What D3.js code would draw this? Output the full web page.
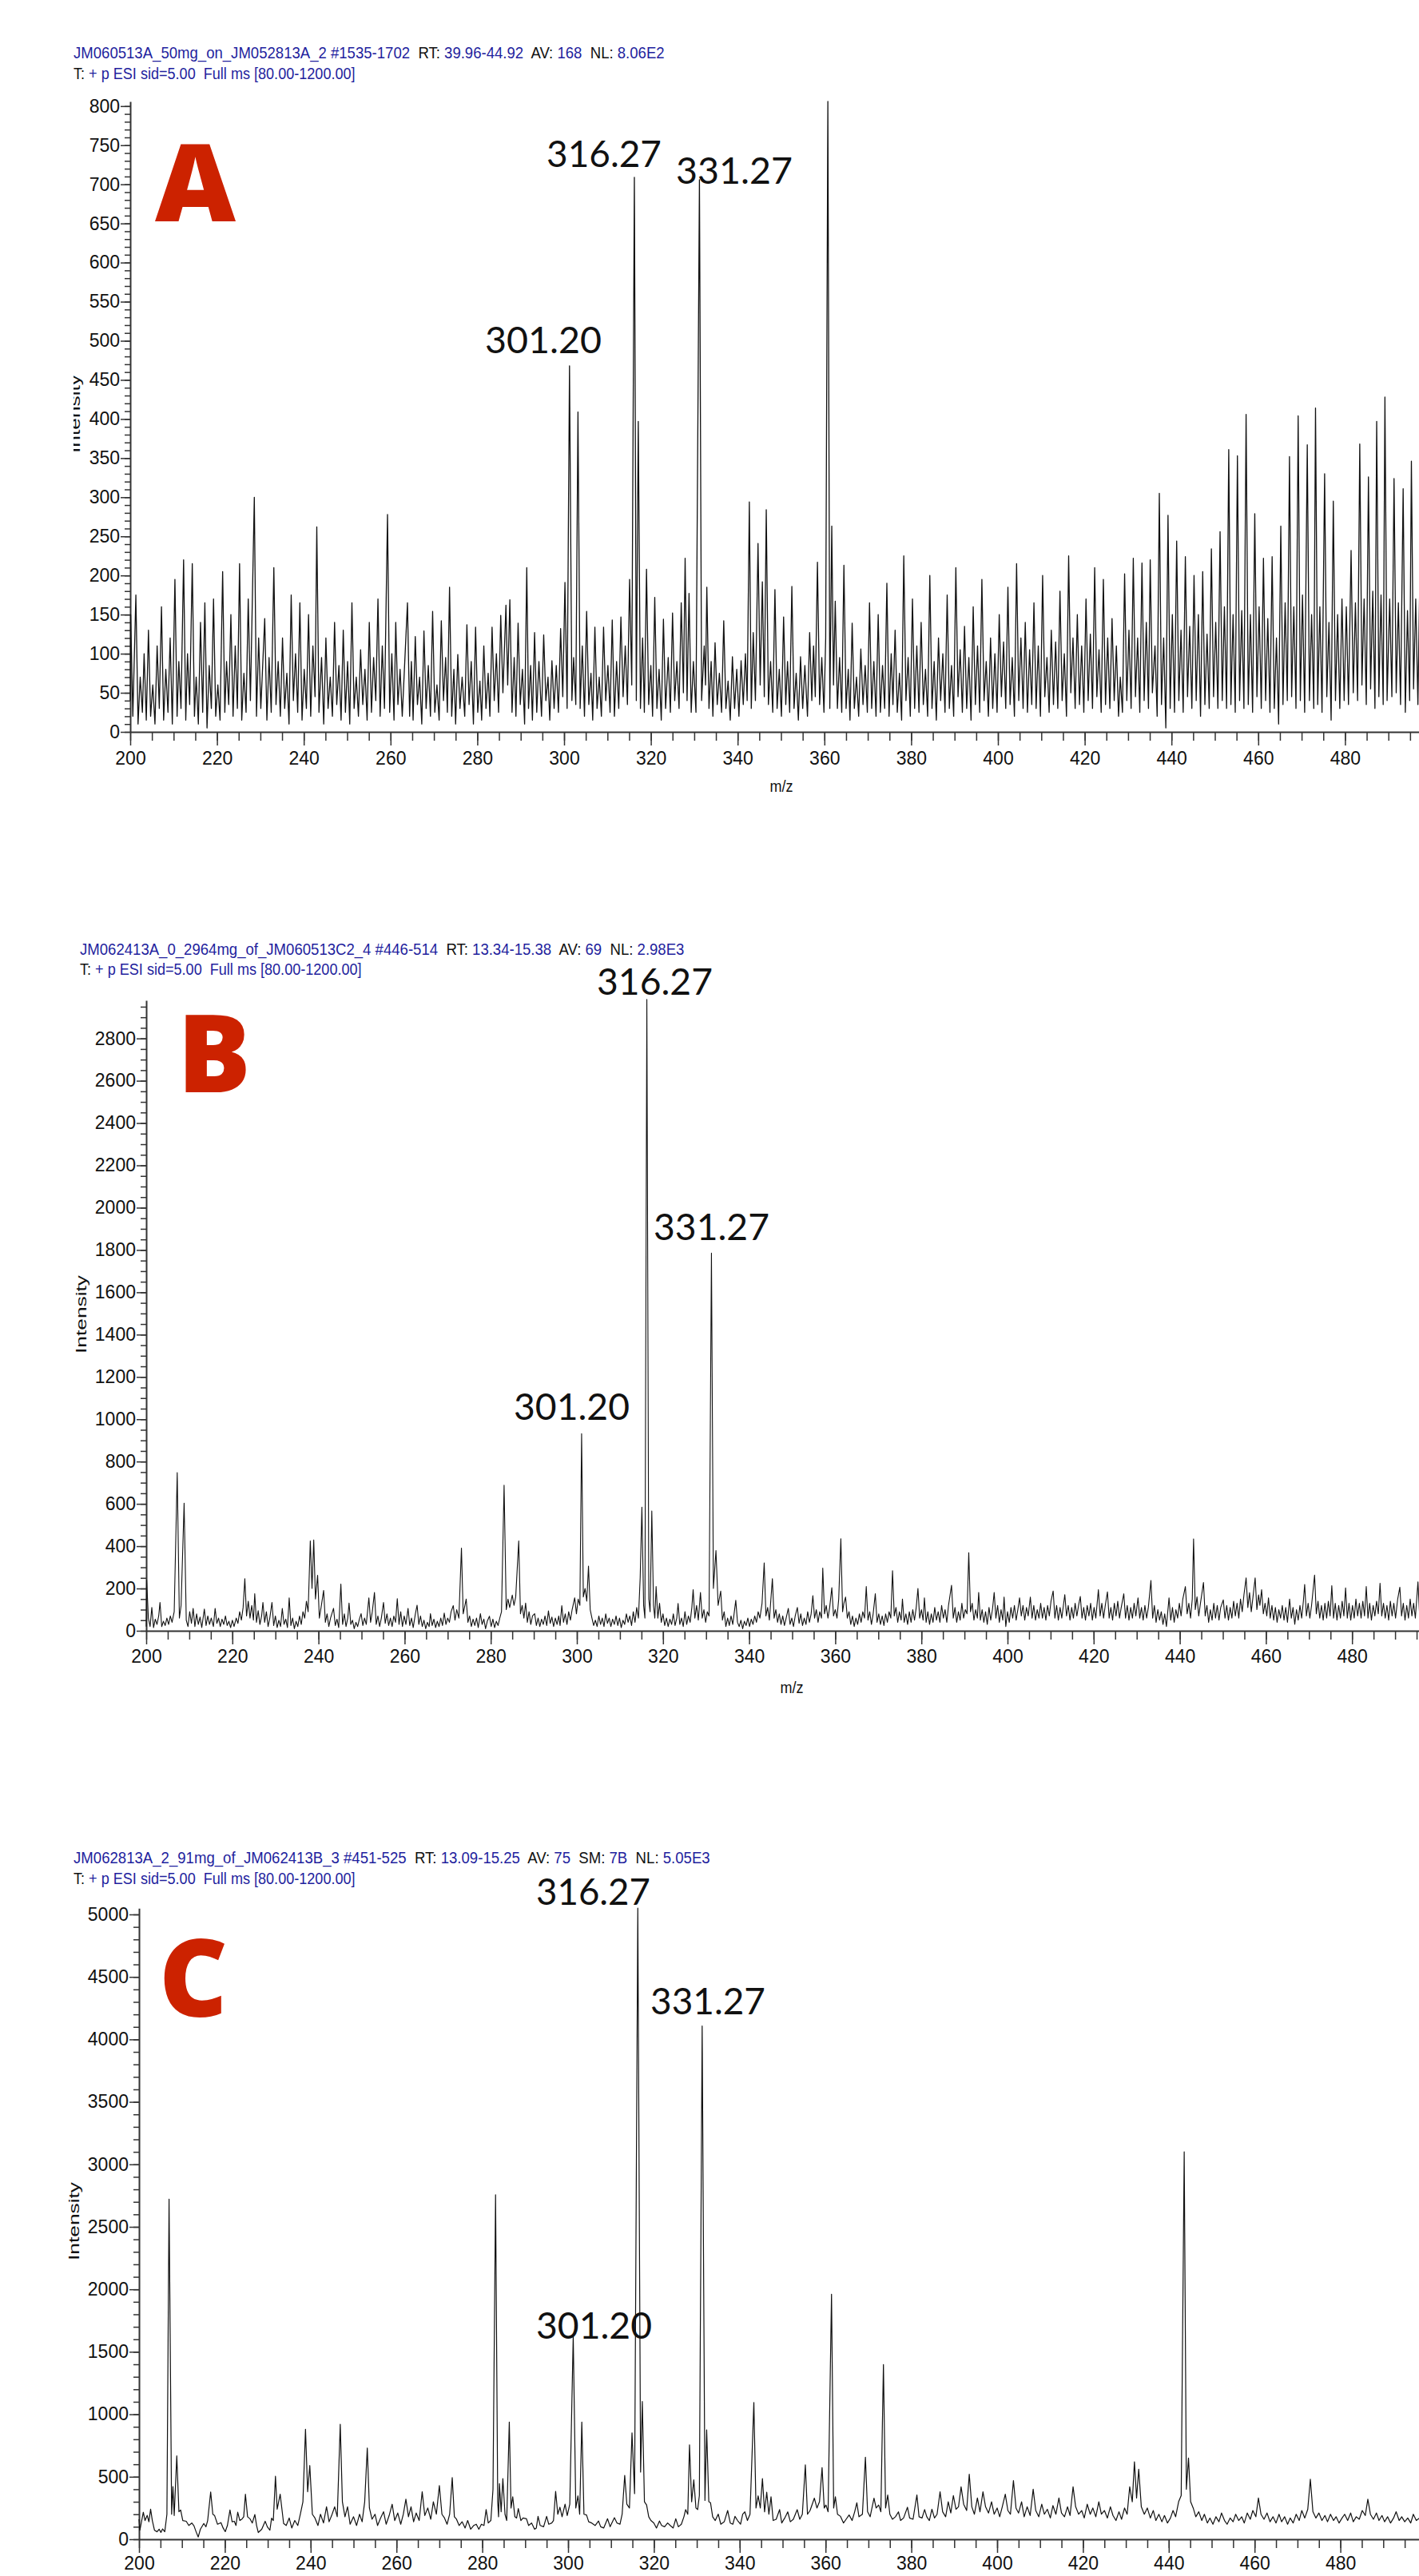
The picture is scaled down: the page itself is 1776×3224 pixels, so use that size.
<!DOCTYPE html>
<html>
<head>
<meta charset="utf-8">
<script src="https://cdn.jsdelivr.net/npm/d3@7"></script>
<style>
  body { margin: 0; background: #fff; }
  svg { display: block; }
</style>
</head>
<body>
<svg id="fig" width="1776" height="3224"></svg>
<script>
// ---- data: spectrum profiles, [m/z, intensity] ----
const profileA = [
[200.0,40],[200.1,150],[200.6,20],[201.3,175],[201.8,10],[202.3,70],[202.8,25],[203.2,100],[203.7,15],[204.2,130],[204.7,20],[205.2,60],[205.7,10],[206.2,110],[206.7,30],[207.2,160],[207.7,15],[208.2,80],[208.7,25],[209.2,120],[209.7,10],[210.3,195],[210.8,20],[211.2,90],[211.7,30],[212.3,220],[212.8,15],[213.2,100],[213.7,35],[214.3,215],[214.8,20],[215.2,70],[215.7,10],[216.2,140],[216.7,25],[217.2,165],[217.7,5],[218.2,85],[218.7,30],[219.2,170],[219.7,20],[220.2,60],[220.7,15],[221.3,205],[221.8,25],[222.2,90],[222.7,35],[223.2,150],[223.7,20],[224.2,110],[224.7,30],[225.2,215],[225.7,15],[226.2,75],[226.7,25],[227.2,170],[227.7,40],[228.6,300],[229.1,20],[229.6,120],[230.1,30],[231.0,145],[231.5,15],[232.0,95],[232.5,25],[233.1,210],[233.6,35],[234.1,90],[234.6,20],[235.1,120],[235.6,30],[236.1,75],[236.6,10],[237.1,175],[237.6,40],[238.1,100],[238.6,25],[239.1,165],[239.6,15],[240.1,80],[240.6,30],[241.1,150],[241.6,20],[242.1,110],[242.6,45],[243.0,262],[243.5,25],[244.1,95],[244.6,10],[245.1,120],[245.6,30],[246.1,70],[246.6,20],[247.1,140],[247.6,35],[248.1,85],[248.6,15],[249.1,130],[249.6,25],[250.1,90],[250.6,10],[251.1,165],[251.6,30],[252.1,70],[252.6,20],[253.1,105],[253.6,35],[254.1,80],[254.6,15],[255.1,140],[255.6,25],[256.1,95],[256.6,40],[257.1,170],[257.6,20],[258.1,110],[258.6,30],[259.3,278],[259.8,25],[260.3,100],[260.8,15],[261.2,140],[261.7,35],[262.2,80],[262.7,20],
[263.9,165],[264.4,20],[264.8,90],[265.2,15],[265.7,122],[266.2,35],[266.7,70],[267.2,10],[267.7,129],[268.2,30],[268.7,85],[269.2,20],[269.7,154],[270.2,25],[270.7,60],[271.2,15],[271.7,142],[272.2,40],[272.7,95],[273.1,25],[273.6,185],[274.1,20],[274.6,80],[275.0,10],[275.5,99],[276.0,30],[276.5,70],[277.1,20],[277.6,137],[278.1,35],[278.6,90],[279.1,10],[279.6,134],[280.1,25],[280.6,65],[281.0,15],[281.5,110],[282.0,30],[282.5,75],[282.9,20],[283.4,134],[283.9,40],[284.4,100],[284.9,25],[285.4,149],[285.9,50],[286.6,162],[287.0,60],[287.5,169],[288.0,25],[288.5,95],[288.9,20],[289.4,139],[289.9,35],[290.4,80],[290.9,10],[291.4,210],[291.8,30],[292.3,85],[292.7,15],[293.2,127],[293.7,25],[294.2,90],[294.8,20],[295.3,124],[295.8,40],[296.3,70],[296.7,15],[297.2,91],[297.7,30],[298.2,85],[298.7,25],[299.2,132],[299.7,45],[300.2,191],[300.7,30],[301.25,468],[301.8,40],[302.2,95],[302.7,35],[303.2,409],[303.7,30],[304.2,110],[304.7,20],[305.2,154],[305.7,35],[306.2,75],[306.6,15],[307.1,134],[307.6,30],[308.1,70],[308.6,20],[309.1,134],[309.6,40],[310.1,85],[310.6,25],[311.1,143],[311.6,20],[312.1,90],[312.6,30],[313.1,147],[313.6,45],[314.1,110],[314.6,35],[315.1,195],[315.6,60],[316.2,709],[316.65,40],[317.1,397],[317.6,30],[318.1,120],[318.5,25],[319.0,208],[319.5,35],[320.0,85],[320.4,20],[320.9,172],[321.4,30],[321.9,80],[322.4,15],[322.9,144],[323.4,30],[324.0,95],[324.5,25],[325.0,152],[325.5,40],[326.0,90],[326.5,30],[327.0,165],[327.5,50],[327.9,222],[328.35,40],[328.8,177],[329.3,25],[329.8,90],[330.4,25],[331.2,706],[331.7,40],[332.3,110],[332.6,60],[332.9,185],[333.4,30],[333.9,90],[334.3,20],[334.8,114],[335.3,35],[335.8,75],[336.3,25],[336.8,142],[337.3,30],[337.8,65],[338.3,15],[338.8,96],[339.3,30],[339.8,80],[340.3,20],[340.8,91],[341.3,35],[341.8,100],[342.2,40],[342.7,294],[343.15,30],[343.6,127],[344.1,40],[344.7,241],[345.2,60],[345.7,192],[346.15,45],[346.6,284],[347.1,35],[347.6,90],[348.1,25],[348.6,182],[349.1,30],[349.6,80],[350.1,20],[350.6,147],[351.1,35],[351.5,90],[352.0,25],[352.5,186],[353.0,30],[353.5,75],[354.0,15],[354.5,96],[355.0,30],[355.5,85],[356.1,20],[356.6,127],[357.1,40],[357.5,110],[357.9,45],[358.4,217],[358.9,35],[359.4,95],[359.9,25],[360.3,120],[360.8,806],[361.25,30],[361.7,263],[362.1,60],[362.5,167],[363.0,30],[363.5,95],[364.0,25],[364.5,213],[365.0,30],[365.5,80],[365.9,15],[366.4,139],[366.9,30],[367.4,70],[367.9,20],[368.4,106],[368.9,35],[369.4,85],[369.9,25],[370.4,165],[370.9,30],[371.4,90],[371.9,20],
[372.4,150],[372.9,25],[373.4,85],[373.9,30],[374.4,190],[374.9,20],[375.4,100],[375.8,35],[376.3,130],[376.8,25],[377.3,75],[377.8,15],[378.3,225],[378.8,40],[379.3,95],[379.8,20],[380.3,170],[380.8,30],[381.3,110],[381.8,25],[382.3,140],[382.8,35],[383.3,80],[383.8,20],[384.3,200],[384.8,30],[385.3,90],[385.8,15],[386.3,120],[386.8,40],[387.3,100],[387.8,25],[388.3,175],[388.8,30],[389.3,85],[389.8,20],[390.3,210],[390.8,45],[391.3,105],[391.8,25],[392.3,135],[392.8,30],[393.3,95],[393.8,15],[394.3,160],[394.8,35],[395.3,110],[395.8,25],[396.3,195],[396.8,40],[397.3,90],[397.8,20],[398.3,120],[398.8,30],[399.3,100],[399.8,25],[400.3,150],[400.8,45],[401.3,115],[401.8,30],[402.3,185],[402.8,35],[403.3,95],[403.8,20],[404.3,215],[404.8,40],[405.3,120],[405.8,30],[406.3,140],[406.8,25],[407.3,105],[407.8,35],[408.3,165],[408.8,30],[409.3,110],[409.8,20],[410.3,200],[410.8,45],[411.3,95],[411.8,25],[412.3,130],[412.8,35],[413.3,115],[413.8,30],[414.3,180],[414.8,40],[415.3,100],[415.8,20],[416.3,225],[416.8,50],[417.3,120],[417.8,30],[418.3,150],[418.8,35],[419.3,110],[419.8,25],[420.3,170],[420.8,40],[421.3,125],[421.8,30],[422.3,210],[422.8,45],[423.3,105],[423.8,25],[424.3,195],[424.8,35],[425.3,120],[425.8,30],[426.3,145],[426.8,40],[427.3,110],[427.8,20],[428.2,70],[428.7,25],
[429.2,202],[429.7,40],[430.2,130],[430.7,30],[431.2,222],[431.7,45],[432.2,120],[432.7,25],[433.2,216],[433.7,40],[434.2,140],[434.7,30],[435.1,220],[435.6,50],[436.2,110],[436.7,20],[437.2,305],[437.7,35],[438.2,120],[438.7,5],[439.2,277],[439.7,30],[440.2,150],[440.7,25],[441.2,244],[441.7,40],[442.2,130],[442.7,25],[443.2,224],[443.7,45],[444.2,135],[444.7,30],[445.2,200],[445.7,40],[446.2,150],[446.7,20],[447.2,205],[447.7,35],[448.2,125],[448.7,30],[449.2,234],[449.7,45],[450.2,140],[450.7,30],[451.2,256],[451.7,40],[452.2,160],[452.7,30],[453.2,361],[453.7,35],[454.2,150],[454.7,25],[455.2,353],[455.7,40],[456.2,155],[456.7,30],[457.2,406],[457.7,35],[458.2,150],[458.7,25],[459.2,279],[459.7,45],[460.2,160],[460.7,30],[461.2,222],[461.7,40],[462.2,145],[462.7,25],[463.2,224],[463.7,30],[464.2,120],[464.7,10],[465.2,263],[465.7,35],[466.2,165],[466.7,40],[467.2,352],[467.7,45],[468.2,160],[468.7,30],[469.2,404],[469.7,40],[470.2,175],[470.7,25],[471.3,367],[471.8,40],[472.3,150],[472.8,30],[473.2,414],[473.7,35],[474.2,160],[474.7,25],[475.3,330],[475.8,45],[476.3,140],[476.8,15],[477.3,295],[477.8,40],[478.3,150],[478.8,30],[479.3,170],[479.8,40],[480.3,160],[480.8,35],[481.4,232],[481.9,50],[482.4,165],[482.9,40],[483.4,368],[483.9,60],[484.4,170],[484.9,35],[485.4,326],[485.9,55],[486.4,180],[486.9,30],[487.3,397],[487.8,45],[488.3,175],[488.8,35],[489.2,428],[489.7,40],[490.3,170],[490.8,45],[491.3,324],[491.8,50],[492.3,165],[492.8,35],[493.4,311],[493.9,25],[494.4,155],[494.9,40],[495.3,346],[495.8,55],[496.3,170],[496.8,35],[497.3,220],[497.8,60],[498.5,150]
];

const profileB = [
[200.0,20],[200.1,240],[200.5,60],[200.9,20],[201.3,110],[201.7,15],[202.1,55],[202.5,30],[202.9,70],[203.2,134],[203.6,20],[204.0,45],[204.4,25],[204.8,60],[205.2,30],[205.6,70],[206.0,40],[206.5,90],[207.2,748],[207.7,60],[208.1,120],[208.8,603],[209.3,50],[209.7,20],[210.1,90],[210.5,35],[210.9,106],[211.3,20],[211.7,80],[212.1,30],[212.5,65],[212.9,15],[213.5,103],[213.9,25],[214.3,70],[214.7,30],[215.1,60],[215.6,20],[216.0,106],[216.4,35],[216.8,60],[217.2,20],[217.6,55],[218.0,30],[218.4,70],[218.8,25],[219.2,45],[219.6,15],[220.0,50],[220.4,20],[220.9,60],[221.3,35],[221.7,90],[222.1,50],[222.5,110],[222.9,246],[223.3,70],[223.7,140],[224.1,60],[224.5,120],[224.9,50],[225.2,175],[225.6,40],[226.0,95],[226.4,30],[226.8,70],[227.1,134],[227.5,40],[227.9,90],[228.3,20],[228.7,60],[229.2,134],[229.6,25],[230.0,70],[230.4,15],[230.8,50],[231.2,20],[231.6,106],[232.0,30],[232.4,55],[232.8,15],[233.2,156],[233.6,25],[234.0,60],[234.4,10],[234.8,45],[235.2,20],[235.6,70],[236.0,30],[236.4,90],[236.8,60],[237.2,140],[237.6,90],[238.1,425],[238.5,200],[238.9,429],[239.3,150],[239.8,262],[240.2,60],[240.6,110],[241.2,191],[241.6,40],[242.0,80],[242.4,20],[242.8,60],[243.5,106],[243.9,25],[244.3,55],[244.7,15],[245.2,221],[245.6,30],[246.0,80],[246.4,20],[246.8,60],[247.1,131],[247.5,30],[247.9,50],[248.3,10],[248.7,40],[249.1,20],[249.5,55],[249.9,81],[250.3,25],[250.7,60],[251.1,30],[251.7,156],[252.1,40],[252.5,90],[253.0,181],[253.4,30],[253.8,70],[254.2,20],[254.6,60],[255.1,134],[255.5,35],[255.9,80],[256.3,25],[256.7,60],[257.1,20],[257.5,70],[257.9,40],[258.3,152],[258.7,30],[259.1,90],[259.5,20],[259.9,70],[260.3,30],[260.8,106],[261.2,25],[261.6,60],[262.0,15],[262.5,80],[262.9,121],[263.3,30],[263.7,70],[264.1,20],[264.5,50],[264.9,10],[265.3,40],[265.7,20],[266.0,81],[266.4,25],[266.8,55],[267.2,15],[267.6,45],[268.0,20],[268.4,60],[268.8,25],[269.2,84],[269.6,30],[270.0,60],[270.4,40],[270.8,90],[271.3,119],[271.7,50],[272.1,100],[272.6,60],[273.2,391],[273.6,80],[274.3,150],[274.7,40],[275.1,70],[275.5,20],[275.9,55],[276.3,25],[276.7,60],[277.1,15],[277.6,81],[278.0,30],[278.4,55],[278.8,10],[279.2,45],[279.7,69],[280.1,20],[280.5,55],[280.9,15],[281.3,45],[281.7,25],[282.1,60],[282.5,90],[283.1,688],[283.6,100],[284.0,150],[284.4,110],[285.0,169],[285.4,120],[285.8,160],[286.5,425],[286.9,80],[287.3,120],[287.7,60],[288.1,131],[288.5,40],[288.9,90],[289.3,30],[289.7,70],[290.2,81],[290.6,25],[291.0,60],[291.4,20],[291.8,55],[292.2,30],[292.6,70],[293.0,25],[293.4,94],[293.8,35],[294.2,65],[294.6,20],[295.0,60],[295.4,30],[295.8,70],[296.1,25],[296.5,119],[296.9,40],[297.3,80],[297.7,30],[298.1,90],[298.5,50],[298.9,100],[299.5,156],[299.9,80],[300.3,150],[300.7,120],[301.1,932],[301.5,160],[301.9,200],[302.3,140],[302.7,306],[303.1,100],[303.5,60],[303.9,25],[304.3,50],[304.7,20],[305.1,70],[305.5,30],[305.9,60],[306.3,20],[306.7,80],[307.1,35],[307.5,60],[307.9,20],[308.3,55],[308.7,30],[309.1,70],[309.5,25],[309.9,60],[310.3,15],[310.7,50],[311.1,30],[311.5,80],[311.9,40],[312.3,70],[312.7,25],[313.1,90],[313.5,40],[313.9,110],[314.3,60],[314.7,250],[315.1,584],[315.5,120],[315.8,60],[316.25,2985],[316.7,150],[317.0,90],[317.4,566],[317.8,120],[318.1,60],[318.4,209],[318.8,60],[319.2,130],[319.6,40],[320.0,80],[320.4,25],[320.8,60],[321.2,20],[321.6,55],[322.0,30],[322.4,80],[322.8,25],[323.2,60],[323.5,129],[323.9,30],[324.3,60],[324.7,20],[325.1,90],[325.5,30],[325.9,70],[326.3,40],[326.7,110],[327.0,194],[327.4,60],[327.8,120],[328.2,50],[328.7,181],[329.1,60],[329.5,100],[329.9,40],[330.3,90],[330.7,70],[331.25,1785],[331.7,200],[332.3,379],[332.8,120],[333.4,188],[333.8,50],[334.2,90],[334.6,20],[335.0,60],[335.4,25],[335.8,70],[336.2,30],[336.9,144],[337.3,40],[337.7,20],[338.1,50],[338.5,10],[338.9,45],[339.3,25],[339.7,60],[340.1,20],[340.5,55],[340.9,30],[341.3,70],[341.7,40],[342.1,90],[342.5,60],[343.0,130],[343.5,321],[343.9,70],[344.3,110],[344.7,50],[345.4,246],[345.8,60],[346.2,100],[346.6,40],[347.0,80],[347.4,30],[347.8,70],[348.2,25],[348.6,60],[349.1,106],[349.5,30],[349.9,60],[350.3,20],[350.7,70],[351.2,110],[351.6,35],[352.0,80],[352.4,25],[352.8,60],[353.2,30],[353.6,90],[354.0,40],[354.4,80],[354.8,166],[355.2,60],[355.6,100],[356.0,40],[356.4,90],[356.8,60],[357.1,296],[357.5,80],[357.9,120],[358.3,60],[358.7,110],[359.2,204],[359.6,70],[360.0,100],[360.4,60],[360.8,150],[361.3,435],[361.7,90],[362.0,130],[362.4,159],[362.8,60],[363.2,90],[363.6,30],[364.0,70],[364.4,20],[364.8,60],[365.2,30],[365.6,80],[366.0,40],[366.4,90],[366.8,60],[367.2,209],[367.6,50],[368.0,90],[368.4,30],[368.8,80],[369.3,175],[369.7,40],[370.1,80],[370.5,30],[370.9,70],[371.3,25],[371.7,80],[372.1,40],[372.5,90],[372.9,60],[373.3,284],[373.7,70],[374.1,110],[374.5,40],[374.9,90],[375.3,50],[375.6,150],[376.0,40],[376.4,80],[376.8,30],[377.2,90],[377.6,40],[378.0,100],[378.4,50],[378.8,110],[379.2,200],[379.6,60],[380.0,100],[380.4,50],[380.7,156],[381.1,40],[381.5,90],[381.9,30],[382.3,80],[382.7,40],[383.1,110],[383.5,50],[383.9,90],[384.3,40],[384.7,120],[385.1,60],[385.5,100],[385.9,40],[386.3,120],[387.0,215],[387.4,60],[387.8,110],[388.2,40],[388.6,90],[389.0,50],[389.4,130],[389.8,60],[390.2,100],[390.6,80],[391.0,369],[391.4,90],[391.8,130],[392.2,50],[392.6,100],[393.0,60],[393.3,181],[393.7,50],[394.1,100],[394.5,40],[394.9,90],[395.3,30],[395.7,110],[396.1,50],[396.5,100],[396.9,181],[397.3,60],[397.7,120],[398.1,40],[398.5,100],[398.9,50],[399.2,159],[399.6,20],[400.0,90],[400.4,40],[400.8,110],[401.2,60],[401.6,120],[402.0,50],[402.4,100],[402.8,156],[403.2,70],[403.6,120],[404.0,50],[404.4,110],[404.8,70],[405.3,159],[405.7,60],[406.1,120],[406.5,50],[406.9,100],[407.3,60],[407.7,130],[408.1,60],[408.5,110],[408.9,50],[409.3,120],[409.7,70],[410.1,140],[410.6,188],[411.0,60],[411.4,120],[411.8,50],[412.2,110],[412.6,60],[413.3,171],[413.7,70],[414.1,120],[414.5,50],[414.9,110],[415.3,60],[415.7,130],[416.1,70],[416.5,120],[416.9,162],[417.3,60],[417.7,110],[418.1,50],[418.5,120],[418.9,70],[419.3,130],[419.7,50],[420.1,110],[420.5,60],[421.1,194],[421.5,70],[421.9,130],[422.3,60],[422.7,120],[423.2,184],[423.6,60],[424.0,110],[424.4,50],[424.8,130],[425.2,70],[425.6,140],[426.0,60],[426.4,110],[427.0,175],[427.4,60],[427.8,120],[428.2,50],[428.6,110],[429.0,60],[429.4,130],[429.8,70],[430.3,156],[430.7,60],[431.1,110],[431.5,50],[431.9,120],[432.3,60],[432.7,110],[433.3,238],[433.7,60],[434.1,120],[434.5,40],[434.9,100],[435.3,50],[435.7,90],[436.1,30],[436.5,80],[436.9,20],[437.5,156],[437.9,50],[438.3,110],[438.7,40],[439.1,100],[439.5,60],[439.9,130],[440.3,70],[440.7,150],[441.3,209],[441.7,80],[442.1,130],[442.5,60],[442.9,150],[443.2,434],[443.6,100],[444.0,160],[444.4,70],[444.8,130],[445.5,228],[445.9,70],[446.3,120],[446.7,40],[447.1,100],[447.5,50],[447.9,130],[448.3,60],[448.7,120],[449.1,50],[449.5,110],[450.1,146],[450.5,60],[450.9,120],[451.3,50],[451.7,110],[452.1,60],[452.5,140],[452.9,70],[453.3,130],[453.7,60],[454.1,150],[454.5,90],[454.9,170],[455.4,250],[455.8,110],[456.2,180],[456.6,90],[457.0,160],[457.5,250],[457.9,100],[458.3,170],[458.6,120],[459.0,194],[459.4,80],[459.8,130],[460.2,70],[460.6,156],[461.0,60],[461.4,120],[461.8,50],[462.2,110],[462.6,40],[463.0,100],[463.4,60],[463.8,120],[464.2,50],[464.6,110],[465.0,40],[465.5,150],[465.9,60],[466.3,110],[466.7,30],[467.1,100],[467.5,50],[467.9,120],[468.3,60],[468.7,140],[469.0,219],[469.4,70],[469.8,130],[470.2,60],[470.6,120],[471.3,263],[471.7,80],[472.1,140],[472.5,60],[472.9,120],[473.3,50],[473.7,130],[474.1,60],[474.5,140],[474.9,70],[475.3,213],[475.7,60],[476.1,130],[476.5,50],[476.9,120],[477.3,60],[477.7,140],[478.1,70],[478.5,203],[478.9,60],[479.3,130],[479.7,50],[480.1,120],[480.5,60],[480.9,150],[481.3,70],[481.7,130],[482.1,60],[482.5,140],[482.9,70],[483.3,209],[483.7,60],[484.1,130],[484.5,50],[484.9,120],[485.3,70],[485.7,140],[486.1,80],[486.5,225],[486.9,70],[487.3,130],[487.7,60],[488.1,120],[488.5,50],[488.9,140],[489.3,70],[489.7,130],[490.1,60],[490.6,150],[491.1,206],[491.5,70],[491.9,130],[492.3,50],[492.7,120],[493.1,60],[493.5,150],[493.9,70],[494.3,130],[494.7,60],[495.3,231],[495.7,70],[496.1,140],[496.5,60],[496.9,130],[497.3,70],[497.7,150],[498.2,80]
];

const profileC = [
[200.0,160],[200.2,72],[201.0,216],[201.4,150],[201.9,191],[202.3,140],[202.7,241],[203.1,150],[203.6,72],[204.2,60],[204.7,80],[205.1,55],[205.5,83],[206.0,60],[206.5,200],[207.0,2721],[207.6,200],[207.9,422],[208.2,190],[208.8,667],[209.3,220],[209.7,234],[210.2,150],[211.0,144],[211.6,110],[212.3,130],[212.8,108],[213.3,60],[213.8,18],[214.3,80],[215.1,126],[215.6,100],[216.0,150],[216.7,378],[217.2,200],[217.6,191],[218.3,120],[219.1,133],[219.6,90],[220.1,61],[220.6,110],[221.2,234],[221.7,140],[222.2,144],[222.6,110],[223.0,216],[223.5,150],[224.0,162],[224.4,180],[224.8,360],[225.3,180],[225.9,162],[226.4,130],[227.0,198],[227.4,110],[227.8,54],[228.6,80],[229.4,144],[229.9,100],[230.5,72],[230.9,169],[231.3,150],[231.8,504],[232.2,240],[232.9,360],[233.7,126],
[234.3,110],[235.0,170],[235.6,90],[236.3,150],[237.0,110],[237.6,200],[238.2,300],[238.8,880],[239.3,380],[239.8,590],[240.4,200],[241.0,170],[241.7,110],[242.3,200],[243.0,130],[243.7,260],[244.3,140],[245.0,200],[245.6,260],[246.2,180],[246.9,920],[247.4,300],[248.0,180],[248.6,260],[249.2,120],[250.0,180],[250.7,110],[251.4,200],[252.0,140],[252.6,300],[253.2,730],[253.7,250],[254.3,160],[255.0,200],[255.6,110],[256.3,170],[257.0,220],[257.6,120],[258.3,190],[259.0,280],[259.6,150],[260.3,210],[261.0,120],[261.6,200],[262.2,320],[262.8,180],[263.4,260],[264.0,140],[264.6,210],[265.3,150],[266.0,380],[266.6,190],[267.3,250],[268.0,160],[268.6,300],[269.3,200],[270.0,430],[270.6,200],[271.2,170],[271.8,120],[272.4,200],[273.0,493],[273.5,180],[274.0,160],[274.6,110],[275.3,140],[276.0,90],[276.6,150],[277.3,80],[278.0,110],[278.6,120],[279.2,80],[279.8,120],[280.4,110],[280.9,237],[281.4,130],[282.0,150],[282.5,400],[283.1,2756],[283.6,300],[283.8,180],[284.0,445],[284.4,220],[284.8,486],[285.3,200],[285.7,150],[286.3,938],[286.7,250],[287.1,340],[287.6,180],[288.0,170],[288.4,245],[289.0,150],[289.5,170],[290.3,164],[290.8,110],[291.5,130],[292.2,80],[292.6,90],[293.0,183],[293.5,110],[294.3,100],[295.0,183],[295.5,120],[296.2,130],[296.6,150],[297.1,383],[297.6,200],[298.1,256],[298.6,180],[299.3,281],[299.8,190],[300.4,280],[301.2,1625],[301.8,250],[302.3,347],[302.7,200],[303.2,938],[303.7,200],[304.3,194],[304.8,140],[305.5,130],[306.3,110],[307.1,146],[307.6,100],[308.3,90],[309.2,164],[309.8,100],[310.8,172],[311.4,130],[312.1,120],[312.6,200],[313.2,511],[313.7,280],[314.3,250],[314.9,851],[315.5,365],[316.25,5050],[316.9,537],[317.3,1103],[317.8,300],[318.3,274],[318.8,180],[319.3,150],[320.0,130],[320.6,90],[321.3,146],[321.8,110],[322.5,100],[323.2,130],[323.8,110],[324.5,90],[325.1,164],[325.7,100],[326.4,120],[327.0,180],[327.4,237],[327.9,200],[328.3,756],[328.8,300],[329.3,475],[329.8,250],[330.2,237],[330.6,350],[331.25,4107],[331.9,310],[332.3,876],[332.8,300],[333.2,292],[333.7,180],[334.3,150],[335.0,201],[335.6,120],[336.4,140],[337.2,230],[337.8,130],[338.4,120],[338.9,183],[339.5,150],[340.2,120],[340.7,200],[341.2,219],[341.8,150],[342.4,200],[343.3,1095],[343.8,250],[344.3,347],[344.8,250],[345.3,486],[345.8,220],[346.3,376],[346.8,200],[347.3,340],[347.8,150],[348.5,160],[349.3,237],[349.8,130],[350.5,170],[351.2,219],[351.8,140],[352.5,160],[353.4,237],[354.0,160],[354.6,200],[355.3,595],[355.8,200],[356.4,230],[357.4,329],[358.0,250],[358.6,300],[359.2,573],[359.7,250],[360.1,274],[360.6,220],[361.4,1961],[361.9,250],[362.3,340],[362.8,200],[363.5,183],[364.2,130],[364.8,160],[365.5,194],[366.2,150],[366.8,220],[367.3,292],[367.8,180],[368.6,200],[369.3,657],[369.8,220],[370.4,180],[371.3,329],[371.8,250],[372.4,274],[372.9,220],[373.5,1398],[374.0,250],[374.5,354],[375.0,200],[375.6,160],[376.3,180],[377.0,219],[377.5,150],[378.2,170],[379.1,256],[379.6,170],[380.4,160],[381.3,354],[381.8,180],[382.5,170],[383.1,237],[383.6,180],
[384.2,150],[384.8,240],[385.4,170],[386.0,200],[386.7,380],[387.3,220],[388.0,180],[388.6,300],[389.2,210],[389.8,350],[390.4,240],[391.0,260],[391.6,420],[392.2,280],[392.9,230],[393.5,520],[394.1,260],[394.7,200],[395.4,330],[396.0,220],[396.7,380],[397.3,260],[398.0,210],[398.7,300],[399.3,200],[400.0,250],[400.6,180],[401.2,260],[401.9,360],[402.5,230],[403.1,200],[403.8,470],[404.4,250],[405.0,210],[405.7,300],[406.3,180],[407.0,260],[407.7,190],[408.4,400],[409.0,230],[409.7,180],[410.4,280],[411.0,200],[411.7,240],[412.4,170],[413.0,270],[413.7,200],[414.4,330],[415.0,210],[415.7,180],[416.4,260],[417.0,190],[417.7,420],[418.3,260],[419.0,200],[419.7,230],[420.3,170],[421.0,280],[421.7,200],[422.3,250],[423.0,180],[423.7,300],[424.3,200],[425.0,230],[425.7,170],[426.4,260],[427.0,190],[427.7,150],[428.4,220],[429.0,160],[429.7,250],[430.3,200],[430.9,420],[431.5,300],[432.0,620],[432.5,330],[433.0,560],[433.6,260],[434.3,200],[435.0,250],[435.7,170],[436.4,230],[437.0,150],[437.7,200],[438.4,140],[439.0,190],[439.7,130],[440.4,170],[441.0,230],[441.6,180],[442.3,300],[442.9,350],[443.6,3100],[444.1,400],[444.6,650],[445.1,300],[445.7,250],[446.3,180],[447.0,220],[447.7,150],[448.3,200],[449.0,130],[449.6,170],[450.3,120],[451.0,180],[451.7,140],[452.3,210],[453.0,150],[453.6,120],[454.3,170],[455.0,140],[455.6,200],[456.3,150],[457.0,180],[457.6,130],[458.3,210],[459.0,160],[459.6,230],[460.3,180],[460.9,330],[461.5,200],[462.2,160],[462.9,210],[463.6,140],[464.3,180],[465.0,130],[465.7,200],[466.3,140],[467.0,180],[467.7,120],[468.3,170],[469.0,130],[469.7,200],[470.4,150],[471.0,230],[471.7,170],[472.4,240],[473.0,480],[473.6,220],[474.3,170],[475.0,210],[475.7,150],[476.4,190],[477.0,140],[477.7,200],[478.4,150],[479.0,180],[479.7,130],[480.4,170],[481.0,200],[481.7,150],[482.4,210],[483.0,140],[483.7,180],[484.4,160],[485.1,230],[485.8,190],[486.4,320],[487.0,200],[487.7,160],[488.4,210],[489.0,150],[489.7,190],[490.3,140],[491.0,180],[491.7,130],[492.4,170],[493.0,220],[493.7,150],[494.3,180],[495.0,140],[495.7,170],[496.4,130],[497.0,200],[497.7,150],[498.5,170]
];

// tick labels
const xTicks = [200,220,240,260,280,300,320,340,360,380,400,420,440,460,480];
const yTicksA = [0,50,100,150,200,250,300,350,400,450,500,550,600,650,700,750,800];
const yTicksB = [0,200,400,600,800,1000,1200,1400,1600,1800,2000,2200,2400,2600,2800];
const yTicksC = [0,500,1000,1500,2000,2500,3000,3500,4000,4500,5000];

// header texts: [text, k = black / b = blue]
const headerA = [
  [["JM060513A_50mg_on_JM052813A_2 #1535-1702  ","b"],["RT: ","k"],["39.96-44.92","b"],["  AV: ","k"],["168","b"],["  NL: ","k"],["8.06E2","b"]],
  [["T: ","k"],["+ p ESI sid=5.00  Full ms [80.00-1200.00]","b"]]
];
const headerB = [
  [["JM062413A_0_2964mg_of_JM060513C2_4 #446-514  ","b"],["RT: ","k"],["13.34-15.38","b"],["  AV: ","k"],["69","b"],["  NL: ","k"],["2.98E3","b"]],
  [["T: ","k"],["+ p ESI sid=5.00  Full ms [80.00-1200.00]","b"]]
];
const headerC = [
  [["JM062813A_2_91mg_of_JM062413B_3 #451-525  ","b"],["RT: ","k"],["13.09-15.25","b"],["  AV: ","k"],["75","b"],["  SM: ","k"],["7B","b"],["  NL: ","k"],["5.05E3","b"]],
  [["T: ","k"],["+ p ESI sid=5.00  Full ms [80.00-1200.00]","b"]]
];

const peakLabels = ["301.20", "316.27", "331.27"];

// ---- drawing ----
const narrow = '"Liberation Sans Narrow", "Liberation Sans", Arial, sans-serif';
const blue = "#1f1f9e", ink = "#111", red = "#cc2200";
const svg = d3.select("#fig");

// squeeze a text horizontally to a target width (keeps tspans in order)
function fitWidth(t, x, y, w) {
  const natural = t.node().getComputedTextLength();
  t.attr("x", 0).attr("y", 0)
    .attr("transform", "translate(" + x + "," + y + ") scale(" + (w / natural) + ",1)");
}

function drawPanel(p) {
  const g = svg.append("g");
  const x = d3.scaleLinear().domain([200, 500]).range(p.xRange);
  const y = d3.scaleLinear().domain([0, p.yMax]).range(p.yRange);
  const x0 = p.xRange[0], y0 = p.yRange[0];

  p.header.forEach(function(line, i) {
    const t = g.append("text")
      .style("font-family", narrow).style("font-size", "21px").style("white-space", "pre");
    line.forEach(function(s) {
      t.append("tspan").attr("fill", s[1] === "k" ? ink : blue).text(s[0]);
    });
    fitWidth(t, p.headX, p.headY[i], p.headW[i]);
  });

  // minor ticks
  g.append("g").attr("transform", "translate(" + x0 + ",0)")
    .call(d3.axisLeft(y).tickValues(d3.range(0, p.yMax + 1, p.yMinor)).tickSize(7).tickFormat("").tickSizeOuter(0))
    .call(function(a) { a.select(".domain").remove(); a.selectAll("line").attr("stroke", "#333").attr("stroke-width", 1.5); });
  g.append("g").attr("transform", "translate(0," + y0 + ")")
    .call(d3.axisBottom(x).tickValues(d3.range(200, 500, 5)).tickSize(11).tickFormat("").tickSizeOuter(0))
    .call(function(a) { a.select(".domain").remove(); a.selectAll("line").attr("stroke", "#333").attr("stroke-width", 1.5); });

  // major ticks + labels
  g.append("g").attr("transform", "translate(" + x0 + ",0)")
    .call(d3.axisLeft(y).tickValues(p.yTicks).tickFormat(d3.format("d")).tickSize(12).tickPadding(1).tickSizeOuter(0))
    .call(function(a) {
      a.attr("font-family", narrow).attr("font-size", 23);
      a.select(".domain").attr("stroke", "#333").attr("stroke-width", 2);
      a.selectAll("line").attr("stroke", "#333").attr("stroke-width", 1.5);
      a.selectAll("text").attr("fill", ink);
    });
  g.append("g").attr("transform", "translate(0," + y0 + ")")
    .call(d3.axisBottom(x).tickValues(xTicks).tickFormat(d3.format("d")).tickSize(17).tickPadding(p.xPad).tickSizeOuter(0))
    .call(function(a) {
      a.attr("font-family", narrow).attr("font-size", 23);
      a.select(".domain").attr("stroke", "#333").attr("stroke-width", 2);
      a.selectAll("line").attr("stroke", "#333").attr("stroke-width", 1.5);
      a.selectAll("text").attr("fill", ink);
    });

  // spectrum
  const line = d3.line().x(function(d) { return x(d[0]); }).y(function(d) { return y(d[1]); });
  g.append("path").datum(p.data)
    .attr("d", line).attr("fill", "none")
    .attr("stroke", ink).attr("stroke-width", p.lw).attr("stroke-linejoin", "round");

  // axis titles
  const ig = g.append("g");
  if (p.clipInt) ig.attr("clip-path", "url(#" + p.clipInt + ")");
  ig.append("text")
    .attr("transform", "translate(" + p.intX + "," + p.intY + ") rotate(-90)")
    .attr("text-anchor", "middle").attr("textLength", 98).attr("lengthAdjust", "spacingAndGlyphs")
    .style("font-family", narrow).style("font-size", "18px").attr("fill", ink).text("Intensity");
  if (p.mzY) {
    g.append("text").attr("x", p.mzX).attr("y", p.mzY).attr("text-anchor", "middle")
      .attr("textLength", 29).attr("lengthAdjust", "spacingAndGlyphs")
      .style("font-family", narrow).style("font-size", "20px").attr("fill", ink).text("m/z");
  }

  // panel letter
  g.append("text").attr("x", p.letter[1]).attr("y", p.letter[2])
    .attr("textLength", p.letter[3]).attr("lengthAdjust", "spacingAndGlyphs")
    .style("font-family", '"Open Sans", Lato, sans-serif').style("font-weight", 800)
    .style("font-size", "134px").attr("fill", red).text(p.letter[0]);

  // peak labels
  p.labels.forEach(function(l, i) {
    g.append("text").attr("x", l[0]).attr("y", l[1])
      .attr("textLength", l[2]).attr("lengthAdjust", "spacingAndGlyphs")
      .style("font-family", 'Lato, "Open Sans", sans-serif').style("font-size", "47px")
      .attr("fill", ink).text(peakLabels[i]);
  });
}

// clip for the partly cut "Intensity" of panel A
svg.append("defs").append("clipPath").attr("id", "clipA")
  .append("rect").attr("x", 92).attr("y", 0).attr("width", 200).attr("height", 1100);

drawPanel({
  header: headerA, headX: 92, headY: [73, 99], headW: [740, 353],
  xRange: [163, 1792], yMax: 806, yRange: [916, 916 - 806 * 0.979],
  yTicks: yTicksA, yMinor: 10, xPad: 8, data: profileA, lw: 1.3,
  intX: 100, intY: 518, clipInt: "clipA", mzX: 978, mzY: 991,
  letter: ["A", 194, 277, 101],
  labels: [[607, 442, 146], [684, 209, 144], [846, 230, 146]]
});

drawPanel({
  header: headerB, headX: 100, headY: [1195, 1220], headW: [757, 353],
  xRange: [183, 1800], yMax: 2980, yRange: [2041, 1252],
  yTicks: yTicksB, yMinor: 50, xPad: 7, data: profileB, lw: 1.1,
  intX: 108, intY: 1645, mzX: 991, mzY: 2119,
  letter: ["B", 222, 1367, 92],
  labels: [[643, 1777, 145], [747, 1245, 145], [818, 1552, 145]]
});

drawPanel({
  header: headerC, headX: 92, headY: [2332, 2358], headW: [797, 353],
  xRange: [174, 1785], yMax: 5050, yRange: [3178, 3178 - 5050 * 0.1564],
  yTicks: yTicksC, yMinor: 100, xPad: 5, data: profileC, lw: 1.2,
  intX: 99, intY: 2780, mzY: null,
  letter: ["C", 199, 2524, 86],
  labels: [[671, 2927, 145], [671, 2384, 143], [814, 2521, 144]]
});
</script>
</body>
</html>
